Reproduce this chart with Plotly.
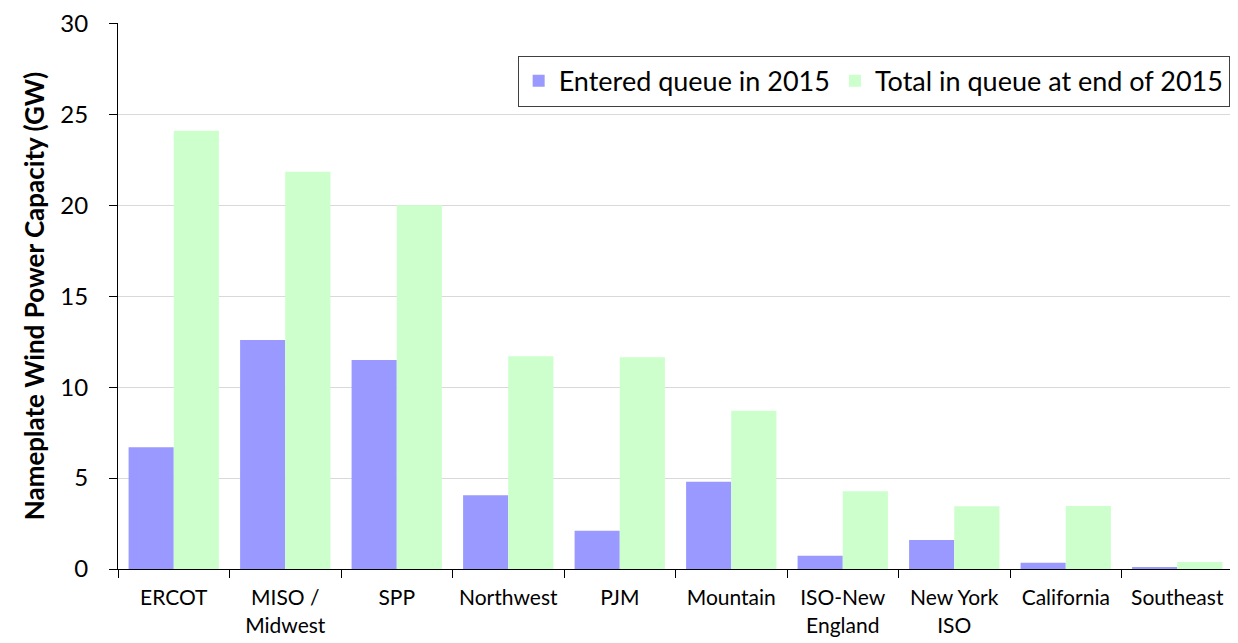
import plotly.graph_objects as go

categories = ["ERCOT", "MISO /<br>Midwest", "SPP", "Northwest", "PJM", "Mountain",
              "ISO-New<br>England", "New York<br>ISO", "California", "Southeast"]
entered_2015 = [6.7, 12.6, 11.5, 4.05, 2.1, 4.8, 0.73, 1.6, 0.34, 0.06]
total_end_2015 = [24.1, 21.85, 20.0, 11.7, 11.65, 8.7, 4.27, 3.45, 3.46, 0.39]
y_ticks = [0, 5, 10, 15, 20, 25, 30]

font_family = "Lato, Open Sans, sans-serif"

fig = go.Figure()
fig.add_trace(go.Bar(x=categories, y=entered_2015, name="Entered queue in 2015",
                     marker=dict(color="#9999FF", line=dict(width=0))))
fig.add_trace(go.Bar(x=categories, y=total_end_2015, name="Total in queue at end of 2015",
                     marker=dict(color="#CCFFCC", line=dict(width=0))))

# page body has an 8px margin, so the figure is drawn 8px smaller and offset
fig.update_layout(
    width=1230, height=635,
    margin=dict(l=110, r=5, t=15, b=74, autoexpand=False),
    plot_bgcolor="white", paper_bgcolor="white",
    barmode="group", bargap=0.19, bargroupgap=0,
    font=dict(family=font_family, size=21, color="black"),
    legend=dict(orientation="h", x=0.997, xanchor="right", y=0.94, yanchor="top",
                bordercolor="#404040", borderwidth=1, bgcolor="white",
                font=dict(size=27), itemwidth=30, traceorder="normal"),
    yaxis=dict(range=[0, 30.03], tickmode="array", tickvals=y_ticks,
               showgrid=True, gridcolor="#D9D9D9", gridwidth=1,
               showline=True, linecolor="black", linewidth=1, ticks="outside", ticklen=8,
               tickcolor="black", tickfont=dict(size=24, family=font_family),
               ticklabelstandoff=16, ticklabeloverflow="allow",
               title=dict(text="<b>Nameplate Wind Power Capacity (GW)</b>",
                          font=dict(size=26, family=font_family), standoff=8),
               zeroline=False, automargin=False),
    xaxis=dict(showline=True, linecolor="black", linewidth=1, ticks="outside", ticklen=8,
               tickcolor="black", tickson="boundaries", tickfont=dict(size=21, family=font_family),
               ticklabelstandoff=10,
               showgrid=False, automargin=False),
)

fig.write_html("out.html")
